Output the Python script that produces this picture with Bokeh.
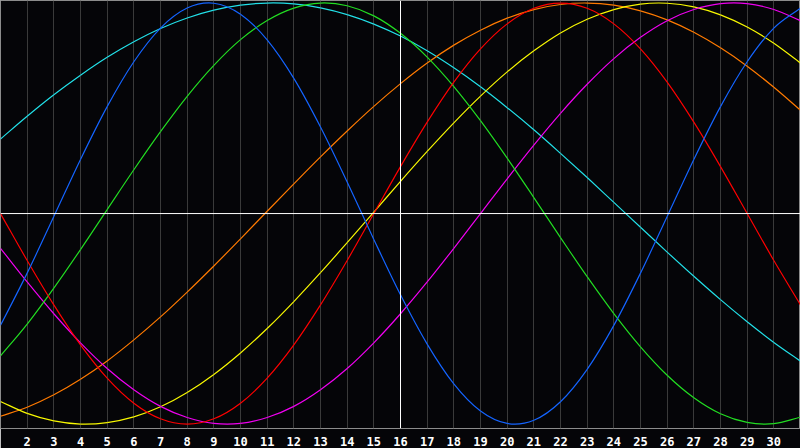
import numpy as np
from bokeh.plotting import figure
from bokeh.models import Range1d, FixedTicker, Span, ColumnDataSource
from bokeh.embed import file_html
from bokeh.resources import INLINE

# Days of the month shown on the chart
days = list(range(1, 32))
tick_days = list(range(2, 31))
today = 16

# Biorhythm cycle values per day, -1 .. +1
physical_23 = [-0.531, -0.283, -0.014, 0.257, 0.508, 0.721, 0.881, 0.976, 0.999, 0.947,
               0.825, 0.642, 0.411, 0.150, -0.123, -0.386, -0.620, -0.809, -0.938, -0.997,
               -0.982, -0.894, -0.740, -0.531, -0.283, -0.014, 0.257, 0.508, 0.721, 0.881, 0.976]
emotional_28 = [0.0, -0.223, -0.434, -0.624, -0.782, -0.901, -0.975, -1.0, -0.975, -0.901,
                -0.782, -0.624, -0.434, -0.223, 0.0, 0.223, 0.434, 0.624, 0.782, 0.901,
                0.975, 1.0, 0.975, 0.901, 0.782, 0.624, 0.434, 0.223, 0.0, -0.223, -0.434]
intellectual_33 = [-0.676, -0.525, -0.354, -0.171, 0.019, 0.208, 0.389, 0.557, 0.704, 0.826,
                   0.917, 0.976, 1.0, 0.987, 0.939, 0.856, 0.743, 0.603, 0.441, 0.263,
                   0.076, -0.114, -0.300, -0.475, -0.633, -0.768, -0.875, -0.951, -0.992, -0.998, -0.967]
intuitive_38 = [-0.165, -0.325, -0.476, -0.614, -0.736, -0.837, -0.916, -0.969, -0.997, -0.997,
                -0.969, -0.916, -0.837, -0.736, -0.614, -0.476, -0.325, -0.165, 0.0, 0.165,
                0.325, 0.476, 0.614, 0.736, 0.837, 0.916, 0.969, 0.997, 0.997, 0.969, 0.916]
aesthetic_43 = [-0.893, -0.949, -0.985, -1.0, -0.993, -0.966, -0.918, -0.850, -0.764, -0.662,
                -0.546, -0.418, -0.281, -0.138, 0.007, 0.153, 0.295, 0.431, 0.558, 0.673,
                0.773, 0.858, 0.923, 0.969, 0.995, 0.999, 0.982, 0.944, 0.886, 0.809, 0.715]
awareness_48 = [-0.963, -0.920, -0.861, -0.787, -0.700, -0.600, -0.491, -0.373, -0.249, -0.120,
                0.011, 0.141, 0.269, 0.392, 0.509, 0.617, 0.715, 0.800, 0.871, 0.928,
                0.969, 0.993, 1.0, 0.990, 0.963, 0.920, 0.861, 0.787, 0.700, 0.600, 0.491]
spiritual_53 = [0.354, 0.462, 0.564, 0.657, 0.742, 0.816, 0.879, 0.929, 0.966, 0.990,
                1.0, 0.996, 0.977, 0.945, 0.900, 0.843, 0.773, 0.692, 0.602, 0.503,
                0.398, 0.286, 0.171, 0.053, -0.065, -0.183, -0.298, -0.409, -0.514, -0.612, -0.701]

series = [
    ("spiritual", spiritual_53, "#22e0e8"),
    ("awareness", awareness_48, "#ff7a00"),
    ("aesthetic", aesthetic_43, "#f8f800"),
    ("intuitive", intuitive_38, "#f000f0"),
    ("intellectual", intellectual_33, "#22dd22"),
    ("emotional", emotional_28, "#ff0000"),
    ("physical", physical_23, "#1464ff"),
]

BG = "#050508"

p = figure(width=800, height=448, output_backend="svg", toolbar_location=None,
           x_range=Range1d(1, 31), y_range=Range1d(-1.021, 1.012),
           y_axis_location=None, min_border_left=0, min_border_right=0,
           min_border_top=0, min_border_bottom=20)

p.background_fill_color = BG
p.border_fill_color = BG
p.outline_line_color = "#8c8c8c"
p.outline_line_width = 1

p.xgrid.ticker = FixedTicker(ticks=tick_days)
p.xgrid.grid_line_color = "#3a3a3a"
p.xgrid.grid_line_width = 1
p.ygrid.visible = False

ax = p.xaxis[0]
ax.ticker = FixedTicker(ticks=tick_days)
ax.axis_line_color = None
ax.major_tick_line_color = None
ax.minor_tick_line_color = None
ax.major_label_text_color = "white"
ax.major_label_text_font = "DejaVu Sans Mono"
ax.major_label_text_font_style = "bold"
ax.major_label_text_font_size = "12px"
ax.major_label_standoff = 2

p.add_layout(Span(location=0, dimension="width", line_color="#ffffff", line_width=1))
p.add_layout(Span(location=today, dimension="height", line_color="#ffffff", line_width=1))

# smooth (Catmull-Rom style) curve through the daily values
x = np.array(days, dtype=float)
for name, vals, color in series:
    y = np.array(vals, dtype=float)
    xp = np.concatenate([[2 * x[0] - x[1]], x, [2 * x[-1] - x[-2]]])
    yp = np.concatenate([[2 * y[0] - y[1]], y, [2 * y[-1] - y[-2]]])
    x0, y0 = xp[1:-2], yp[1:-2]
    x1, y1 = xp[2:-1], yp[2:-1]
    c0x = x0 + (xp[2:-1] - xp[:-3]) / 6.0
    c0y = y0 + (yp[2:-1] - yp[:-3]) / 6.0
    c1x = x1 - (xp[3:] - xp[1:-2]) / 6.0
    c1y = y1 - (yp[3:] - yp[1:-2]) / 6.0
    src = ColumnDataSource(dict(x0=x0, y0=y0, x1=x1, y1=y1,
                                cx0=c0x, cy0=c0y, cx1=c1x, cy1=c1y))
    p.bezier(x0="x0", y0="y0", x1="x1", y1="y1", cx0="cx0", cy0="cy0",
             cx1="cx1", cy1="cy1", source=src, line_color=color,
             line_width=1.2, name=name)

open("out.html", "w").write(file_html(p, INLINE))
